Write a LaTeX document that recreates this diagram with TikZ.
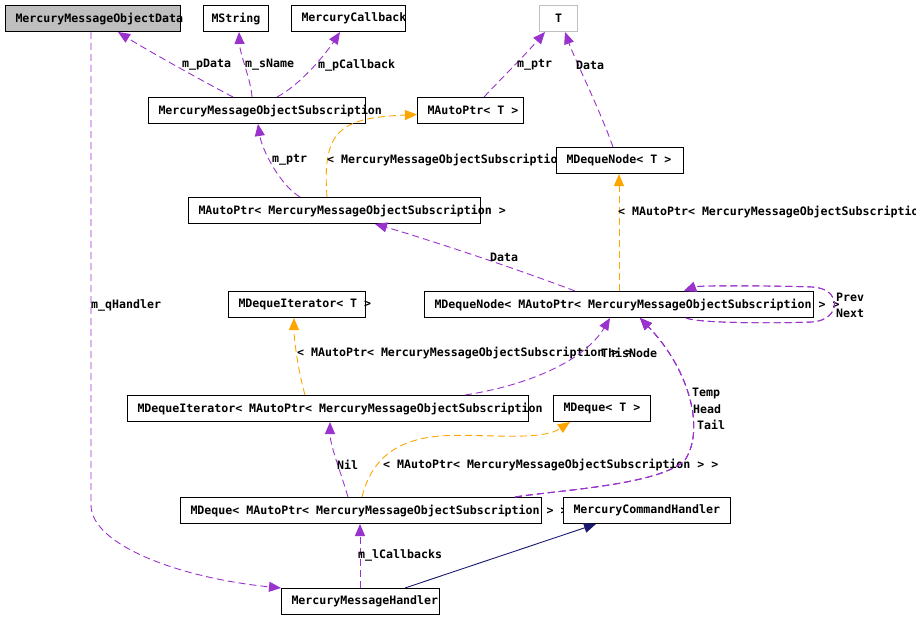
\documentclass[tikz,border=0pt]{standalone}
\usepackage{fontspec}
\usetikzlibrary{arrows.meta}
\newfontfamily\dxmono{DejaVu Sans Mono}
\definecolor{dxpurple}{RGB}{154,50,205}
\definecolor{dxorange}{RGB}{255,165,0}
\definecolor{dxblue}{RGB}{25,25,112}
\definecolor{dxgray}{RGB}{191,191,191}
\newcommand{\dxfont}{\dxmono\bfseries\fontsize{11.6}{13}\selectfont}
\newcommand{\clsname}[3][10pt]{\makebox[#2pt][l]{\hspace{#1}#3}}
\tikzset{
  cls/.style={draw=black, fill=white, line width=1pt, anchor=north west, inner xsep=0pt, inner ysep=0pt, minimum height=26pt, font=\dxfont},
  lbl/.style={anchor=west, inner sep=0pt, font=\dxfont},
  usageline/.style={draw=dxpurple, line width=0.9pt, dash pattern=on 7pt off 4pt, -{Triangle[length=12pt,width=10pt]}},
  templline/.style={usageline, draw=dxorange},
  inheritline/.style={draw=dxblue, line width=0.9pt, -{Triangle[length=12pt,width=10pt]}}
}
\begin{document}
\begin{tikzpicture}[x=1pt, y=-1pt]
\useasboundingbox (0,0) rectangle (916,618);
% classes
\node[cls, fill=dxgray] (msgdata) at (5,5) {\clsname{175}{MercuryMessageObjectData}};
\node[cls] (mstring) at (203,5) {\clsname[8pt]{65}{MString}};
\node[cls] (callback) at (291,5) {\clsname{114}{MercuryCallback}};
\node[cls, draw=dxgray] (tparam) at (539,5) {\clsname[15.5pt]{38}{T}};
\node[cls] (objsub) at (148,97) {\clsname{217}{MercuryMessageObjectSubscription}};
\node[cls] (autoptrt) at (417,97) {\clsname{106}{MAutoPtr< T >}};
\node[cls] (dnodet) at (556,147) {\clsname{127}{MDequeNode< T >}};
\node[cls] (autoptrsub) at (188,197) {\clsname{292}{MAutoPtr< MercuryMessageObjectSubscription >}};
\node[cls] (ditert) at (228,291) {\clsname{137}{MDequeIterator< T >}};
\node[cls] (dnodesub) at (424,291) {\clsname{389}{MDequeNode< MAutoPtr< MercuryMessageObjectSubscription > >}};
\node[cls] (ditersub) at (127,395) {\clsname{401}{MDequeIterator< MAutoPtr< MercuryMessageObjectSubscription}};
\node[cls] (dequet) at (553,395) {\clsname{97}{MDeque< T >}};
\node[cls] (dequesub) at (180,497) {\clsname{361}{MDeque< MAutoPtr< MercuryMessageObjectSubscription > >}};
\node[cls] (cmdhandler) at (563,497) {\clsname{167}{MercuryCommandHandler}};
\node[cls] (msghandler) at (281,588) {\clsname{158}{MercuryMessageHandler}};
% members of MercuryMessageObjectSubscription
\draw[usageline] ([xshift=85pt]objsub.north west) .. controls (210,85) and (150,52) .. ([xshift=113pt]msgdata.south west);
\node[lbl] (lpdata) at (182,65) {m\_pData};
\draw[usageline] ([xshift=104pt]objsub.north west) .. controls (251,80) and (240,55) .. ([xshift=36pt]mstring.south west);
\node[lbl] (lsname) at (245,65) {m\_sName};
\draw[usageline] ([xshift=129pt]objsub.north west) .. controls (300,85) and (325,55) .. ([xshift=49pt]callback.south west);
\node[lbl] (lpcallback) at (318,65) {m\_pCallback};
% templates on T
\draw[usageline] ([xshift=67pt]autoptrt.north west) .. controls (500,80) and (525,55) .. ([xshift=6pt]tparam.south west);
\node[lbl] (lptrt) at (517,65) {m\_ptr};
\draw[usageline] ([xshift=57pt]dnodet.north west) .. controls (600,110) and (575,60) .. ([xshift=26pt]tparam.south west);
\node[lbl] (ldatat) at (576,65) {Data};
% MAutoPtr< MercuryMessageObjectSubscription >
\draw[usageline] ([xshift=112pt]autoptrsub.north west) .. controls (280,185) and (262,150) .. ([xshift=110pt]objsub.south west);
\node[lbl] (lptrsub) at (272,160) {m\_ptr};
\draw[templline] ([xshift=139pt]autoptrsub.north west) .. controls (322,130) and (340,118) .. ([yshift=-4pt]autoptrt.west);
\node[lbl] (lsubtmpl) at (327,160) {< MercuryMessageObjectSubscriptio};
% MDequeNode
\draw[usageline] ([xshift=151pt]dnodesub.north west) .. controls (520,270) and (430,240) .. ([xshift=187pt]autoptrsub.south west);
\node[lbl] (ldatasub) at (490,257) {Data};
\draw[templline] ([xshift=195pt]dnodesub.north west) -- ([xshift=63pt]dnodet.south west);
\node[lbl] (lnodetmpl) at (618,212) {< MAutoPtr< MercuryMessageObjectSubscriptio};
\foreach \lab/\ly in {Prev/297, Next/313} {
  \draw[usageline] ([xshift=262pt]dnodesub.south west) .. controls (700,324) and (790,323) .. (812,322)
    .. controls (842,320) and (842,288) .. (812,287) .. controls (790,286) and (700,285) .. ([xshift=260pt]dnodesub.north west);
  \node[lbl] (l\lab) at (836,\ly) {\lab};
}
% MDequeIterator
\draw[templline] ([xshift=178pt]ditersub.north west) .. controls (298,370) and (294,340) .. ([xshift=66pt]ditert.south west);
\node[lbl] (litertmpl) at (297,353) {< MAutoPtr< MercuryMessageObjectSubscription > >};
\draw[usageline] ([xshift=338pt]ditersub.north west) .. controls (530,385) and (585,360) .. ([xshift=186pt]dnodesub.south west);
\node[lbl] (lthisnode) at (601,353) {ThisNode};
% MDeque
\draw[usageline] ([xshift=168pt]dequesub.north west) .. controls (340,470) and (330,445) .. ([xshift=203pt]ditersub.south west);
\node[lbl] (lnil) at (337,465) {Nil};
\draw[templline] ([xshift=182pt]dequesub.north west) .. controls (370,465) and (390,440) .. (440,436)
  .. controls (480,433) and (540,442) .. ([xshift=17pt]dequet.south west);
\node[lbl] (ldequetmpl) at (383,465) {< MAutoPtr< MercuryMessageObjectSubscription > >};
\foreach \lab/\lx/\ly in {Temp/692/393, Head/693/409, Tail/697/425} {
  \draw[usageline] ([xshift=335pt]dequesub.north west) .. controls (560,490) and (660,485) .. (685,460)
    .. controls (705,430) and (690,370) .. ([xshift=216pt]dnodesub.south west);
  \node[lbl] (l\lab) at (\lx,\ly) {\lab};
}
% MercuryMessageHandler
\draw[usageline] ([xshift=79pt]msghandler.north west) -- ([xshift=180pt]dequesub.south west);
\node[lbl] (lcallbacks) at (358,555) {m\_lCallbacks};
\draw[inheritline] ([xshift=124pt]msghandler.north west) -- ([xshift=33pt]cmdhandler.south west);
\draw[usageline] ([xshift=86pt]msgdata.south west) -- (91,505) .. controls (91,545) and (180,578) .. (msghandler.north west);
\node[lbl] (lqhandler) at (91,305) {m\_qHandler};
\end{tikzpicture}
\end{document}
